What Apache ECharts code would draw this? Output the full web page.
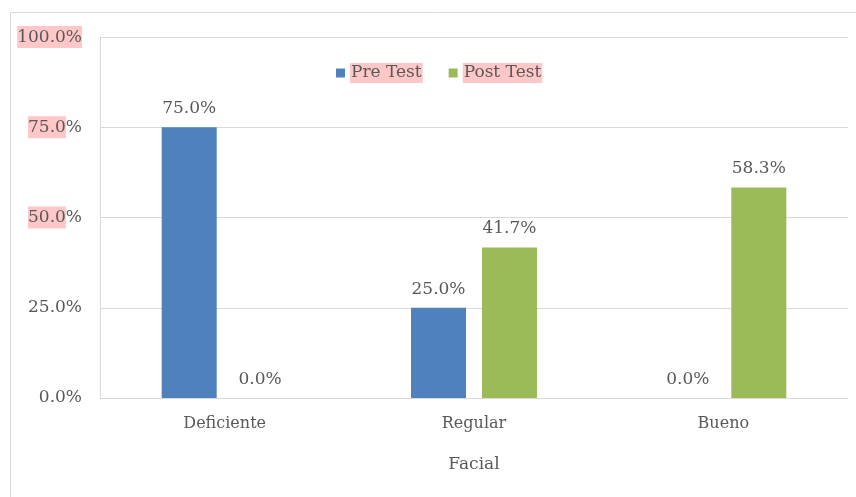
<!DOCTYPE html>
<html>
<head>
<meta charset="utf-8">
<script src="https://cdn.jsdelivr.net/npm/echarts@6/dist/echarts.min.js"></script>
<style>html,body{margin:0;padding:0;background:#fff;}#c{width:856px;height:497px;}</style>
</head>
<body>
<div id="c"></div>
<script>
const categories = ['Deficiente', 'Regular', 'Bueno'];
const preTest = [75.0, 25.0, 0.0];
const postTest = [0.0, 41.7, 58.3];
const seriesNames = ['Pre Test', 'Post Test'];
const axisName = 'Facial';

const FONT = 'DejaVu Serif';
const TXT = '#595959';
const HL = '#ffc7c7';

const chart = echarts.init(document.getElementById('c'), null, {renderer: 'canvas'});
const lbl = {
  show: true, position: 'top', distance: 10,
  fontFamily: FONT, fontSize: 17, color: TXT,
  formatter: p => p.value.toFixed(1) + '%'
};
chart.setOption({
  animation: false,
  backgroundColor: '#fff',
  graphic: [{
    type: 'rect', shape: {x: 10.5, y: 12.5, width: 900, height: 600},
    style: {fill: 'none', stroke: '#d9d9d9', lineWidth: 1}, silent: true, z: -1
  }],
  grid: {left: 100, right: 8, top: 37, bottom: 99, containLabel: false},
  legend: {
    left: 331, top: 58, itemWidth: 9, itemHeight: 9, itemGap: 26, icon: 'rect',
    textStyle: {fontFamily: FONT, fontSize: 17, color: TXT, backgroundColor: HL, padding: [2, 1, 1, 1]},
    data: seriesNames
  },
  xAxis: {
    type: 'category', data: categories,
    name: axisName, nameLocation: 'middle', nameGap: 58,
    nameTextStyle: {fontFamily: FONT, fontSize: 17, color: TXT},
    axisLine: {show: true, lineStyle: {color: '#d9d9d9'}},
    axisTick: {show: false},
    axisLabel: {fontFamily: FONT, fontSize: 16, color: TXT, margin: 18}
  },
  yAxis: {
    type: 'value', min: 0, max: 100, interval: 25,
    axisLine: {show: true, lineStyle: {color: '#d9d9d9'}},
    axisTick: {show: false},
    splitLine: {lineStyle: {color: '#d9d9d9'}},
    axisLabel: {
      fontFamily: FONT, fontSize: 17, color: TXT, margin: 18,
      formatter: v => {
        if (v === 100) return '{h|100.0%}';
        if (v === 75 || v === 50) return '{h|' + v.toFixed(1) + '}%';
        return v.toFixed(1) + '%';
      },
      rich: {h: {backgroundColor: HL, fontFamily: FONT, fontSize: 17, color: TXT, padding: [3, 0, 2, 0]}}
    }
  },
  series: [
    {name: seriesNames[0], type: 'bar', data: preTest, barWidth: 55, barGap: '29%',
     itemStyle: {color: '#4f81bd'}, label: lbl},
    {name: seriesNames[1], type: 'bar', data: postTest, barWidth: 55,
     itemStyle: {color: '#9bbb59'}, label: lbl}
  ]
});
</script>
</body>
</html>
